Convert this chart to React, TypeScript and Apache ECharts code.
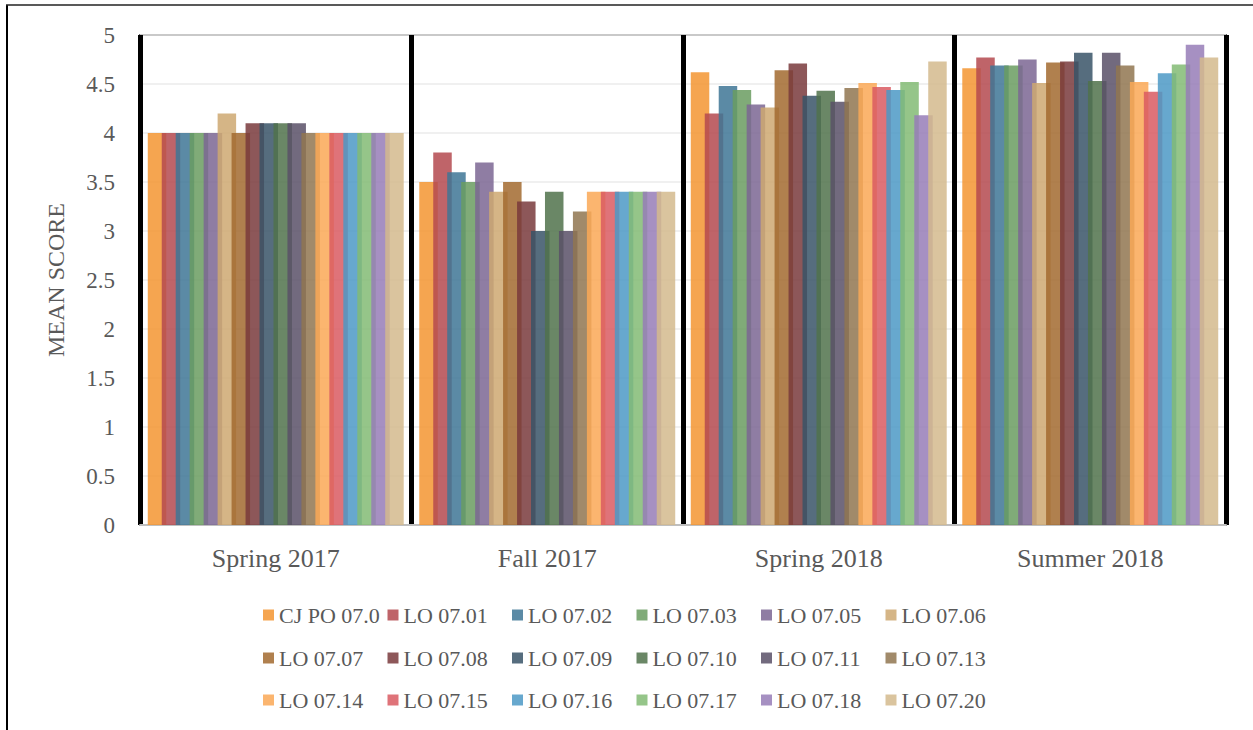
import React, { useEffect, useRef } from "react";
import * as echarts from "echarts";

const categories = ["Spring 2017", "Fall 2017", "Spring 2018", "Summer 2018"];

const seriesNames = [
  "CJ PO 07.0", "LO 07.01", "LO 07.02", "LO 07.03", "LO 07.05", "LO 07.06",
  "LO 07.07", "LO 07.08", "LO 07.09", "LO 07.10", "LO 07.11", "LO 07.13",
  "LO 07.14", "LO 07.15", "LO 07.16", "LO 07.17", "LO 07.18", "LO 07.20",
];

const spring2017 = [4, 4, 4, 4, 4, 4.2, 4, 4.1, 4.1, 4.1, 4.1, 4, 4, 4, 4, 4, 4, 4];
const fall2017 = [3.5, 3.8, 3.6, 3.5, 3.7, 3.4, 3.5, 3.3, 3.0, 3.4, 3.0, 3.2, 3.4, 3.4, 3.4, 3.4, 3.4, 3.4];
const spring2018 = [4.62, 4.2, 4.48, 4.44, 4.29, 4.26, 4.64, 4.71, 4.38, 4.43, 4.32, 4.46, 4.51, 4.47, 4.44, 4.52, 4.18, 4.73];
const summer2018 = [4.66, 4.77, 4.69, 4.69, 4.75, 4.51, 4.72, 4.73, 4.82, 4.53, 4.82, 4.69, 4.52, 4.42, 4.61, 4.7, 4.9, 4.77];

const yTicks = { min: 0, max: 5, interval: 0.5 };

const colors = [
  "#F39531", "#B4494F", "#3E7595", "#6A9C60", "#7B6693", "#CEA871",
  "#A26A2F", "#79393C", "#385467", "#50724B", "#595067", "#907550",
  "#FAA856", "#D95A62", "#4C99C6", "#83BB74", "#977CB7", "#D4BA8D",
];

const FONT = "'Liberation Serif', 'DejaVu Serif', serif";
const TEXT = "#595959";

export default function App() {
  const ref = useRef<HTMLDivElement>(null);

  useEffect(() => {
    if (!ref.current) return;
    const chart = echarts.init(ref.current, undefined, { renderer: "svg" });
    const seasons = [spring2017, fall2017, spring2018, summer2018];

    const series = seriesNames.map((name, i) => ({
      name,
      type: "bar",
      data: seasons.map((s) => s[i]),
      barWidth: 18.5,
      barGap: "-24.5%",
      itemStyle: { color: colors[i], opacity: 0.85 },
      emphasis: { disabled: true },
    }));

    const colPitch = 124.5;
    const rowTops = [604, 647, 689];
    const legends = seriesNames.map((name, i) => ({
      data: [name],
      left: 263 + (i % 6) * colPitch,
      top: rowTops[Math.floor(i / 6)],
      padding: 0,
      orient: "horizontal",
      icon: "rect",
      itemWidth: 11,
      itemHeight: 11,
      textStyle: { color: TEXT, fontSize: 22, fontFamily: FONT },
    }));

    chart.setOption({
      animation: false,
      color: colors,
      grid: {
        left: 140,
        right: 27,
        top: 35,
        bottom: 205,
        show: true,
        borderColor: "#666666",
        borderWidth: 2,
        backgroundColor: "transparent",
      },
      legend: legends,
      xAxis: {
        type: "category",
        data: categories,
        axisLine: { show: true, lineStyle: { color: "#bfbfbf", width: 2 } },
        axisTick: { show: false },
        axisLabel: { color: TEXT, fontSize: 26, fontFamily: FONT, margin: 20 },
        splitLine: { show: true, lineStyle: { color: "#000000", width: 5 } },
      },
      yAxis: {
        type: "value",
        min: yTicks.min,
        max: yTicks.max,
        interval: yTicks.interval,
        name: "MEAN SCORE",
        nameLocation: "middle",
        nameGap: 72,
        nameTextStyle: { color: TEXT, fontSize: 24, fontFamily: FONT },
        axisLine: { show: false },
        axisTick: { show: false },
        axisLabel: { color: TEXT, fontSize: 23, fontFamily: FONT, margin: 25 },
        splitLine: { show: true, lineStyle: { color: "#ebebeb", width: 1.5 } },
      },
      graphic: [
        { type: "line", shape: { x1: 7, y1: 5, x2: 7, y2: 730 }, style: { stroke: "#000", lineWidth: 2 } },
        { type: "line", shape: { x1: 6, y1: 5, x2: 1253, y2: 5 }, style: { stroke: "#222", lineWidth: 1.5 } },
      ],
      series,
    });

    return () => chart.dispose();
  }, []);

  return (
    <div
      ref={ref}
      style={{ position: "absolute", left: 0, top: 0, width: 1253, height: 730, background: "#fff" }}
    />
  );
}
